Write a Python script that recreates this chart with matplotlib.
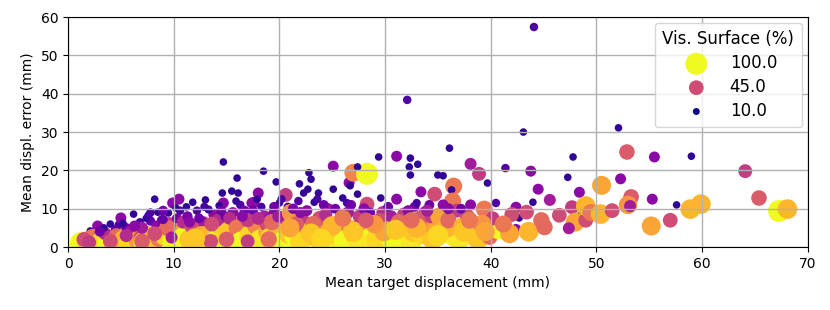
import numpy as np
import matplotlib.pyplot as plt
from matplotlib.colors import PowerNorm

# (mean target displacement, mean displ. error, visible surface %)
puntos = [
    (1.2,1.0,100),(1.8,1.5,85),(2.5,0.8,100),(2.1,4.2,12),(2.8,5.5,25),(2.3,2.5,60),(1.5,2.0,45),(3.0,3.0,30),
    (3.2,1.5,90),(3.8,0.8,100),(4.2,2.0,75),(4.5,4.5,20),(3.5,3.5,35),(4.8,5.8,15),(4.0,6.0,12),(4.6,2.8,55),(3.4,5.0,12),
    (5.0,7.6,25),(5.3,2.0,80),(5.8,1.0,90),(6.2,8.6,12),(6.5,3.5,50),(5.5,5.0,20),(6.8,6.5,14),(6.0,4.2,30),(6.6,1.8,70),(5.2,6.2,12),(6.9,2.5,45),
    (7.2,1.2,95),(7.5,3.0,75),(8.2,12.5,12),(8.5,9.1,12),(7.8,6.8,18),(8.0,2.0,85),(8.8,4.5,40),(7.4,7.5,12),(8.4,5.5,25),(7.0,5.0,30),(8.9,7.0,22),(8.6,2.2,60),(7.6,8.2,14),
    (9.5,8.9,12),(9.9,11.5,25),(10.5,12.5,25),(9.2,3.0,90),(10.0,1.5,100),(10.8,4.0,70),(9.6,6.0,40),(10.3,7.5,20),(9.4,5.0,55),(10.6,9.5,15),(11.0,2.5,100),(10.2,10.2,12),(9.0,7.2,18),(10.9,6.5,35),
    (11.8,11.7,12),(13.0,12.3,12),(11.5,2.0,85),(12.0,4.5,60),(12.5,1.0,100),(11.3,8.0,22),(12.2,9.5,15),(12.8,6.5,30),(11.7,5.5,45),(12.6,3.0,75),(11.2,10.5,12),(12.4,7.5,20),(13.0,2.0,90),(12.9,10.5,14),
    (14.7,22.2,12),(14.6,14.1,12),(14.7,11.5,25),(13.5,3.5,80),(14.0,1.5,100),(14.5,5.0,55),(13.8,8.5,25),(14.2,7.0,35),(13.3,9.8,14),(14.8,3.0,90),(13.6,6.0,45),(14.3,10.8,12),(14.9,8.0,20),
    (15.5,14.6,12),(16.1,14.1,12),(16.0,18.0,12),(15.2,4.0,85),(15.8,2.0,75),(16.5,6.5,50),(15.6,9.0,25),(16.3,11.0,15),(16.8,3.5,85),(15.3,7.5,35),(16.0,5.0,60),(16.7,9.5,20),(15.9,12.0,12),(16.4,1.2,100),
    (17.6,11.7,25),(17.4,11.5,25),(18.0,14.1,25),(18.5,19.8,12),(17.2,3.0,90),(17.8,5.5,65),(18.2,1.8,95),(18.6,8.0,30),(17.5,9.5,20),(18.9,4.0,75),(18.3,10.5,14),(17.0,7.0,40),(18.8,6.0,45),(17.9,12.5,12),
    (19.7,17.0,12),(20.6,13.6,40),(19.2,2.5,90),(19.8,5.0,80),(20.3,1.2,100),(20.5,7.5,35),(19.5,9.0,25),(20.8,10.5,15),(19.3,6.5,55),(20.0,11.5,12),(20.9,3.5,85),(19.9,8.0,30),(20.2,12.5,14),
    (21.1,8.9,70),(21.9,16.5,12),(22.3,14.1,12),(22.7,15.1,12),(22.8,19.4,12),(23.0,17.7,12),(21.5,3.0,100),(22.0,1.5,90),(22.5,5.5,60),(21.3,10.0,22),(22.2,7.0,40),(21.8,12.0,15),(22.9,4.0,80),(21.6,6.0,50),(22.6,9.5,25),
    (23.3,11.7,12),(23.7,14.1,12),(24.6,9.9,30),(23.5,2.5,85),(24.0,5.0,75),(24.5,1.2,100),(23.8,7.5,45),(24.2,11.0,20),(23.2,6.0,55),(24.8,3.5,85),(24.4,8.5,35),(23.6,12.5,14),
    (25.1,21.1,25),(25.1,15.1,12),(26.0,12.8,12),(26.6,16.8,25),(26.7,16.0,12),(25.5,3.0,90),(26.2,1.5,100),(25.8,6.5,55),(26.5,9.0,30),(25.3,10.0,20),(26.9,4.5,75),(25.9,8.0,40),(26.4,11.5,14),
    (27.0,19.4,65),(28.3,19.1,100),(27.4,20.9,12),(27.4,13.8,12),(28.3,11.2,45),(27.2,3.0,85),(27.8,5.5,70),(28.5,2.0,100),(27.6,8.0,40),(28.8,6.5,55),(28.0,10.0,25),(27.5,1.0,95),(28.6,9.0,20),
    (29.4,23.5,12),(29.6,12.8,12),(30.5,3.5,100),(29.2,2.0,90),(30.0,6.0,65),(29.8,9.0,35),(30.8,1.5,100),(29.5,7.0,45),(30.3,10.5,20),(30.9,5.0,80),(30.6,8.0,30),(29.9,4.0,75),
    (31.1,23.7,25),(31.1,12.5,25),(32.1,38.4,15),(32.4,23.2,12),(32.3,20.9,12),(32.4,18.8,12),(31.5,3.0,100),(32.0,5.5,75),(32.5,1.5,95),(31.8,8.5,40),(32.8,10.5,20),(31.3,6.5,55),(32.7,4.0,85),(32.2,9.5,25),
    (33.1,21.6,12),(33.4,14.4,25),(34.7,13.8,45),(33.5,3.5,90),(34.0,6.0,65),(34.5,2.0,85),(33.8,9.0,35),(34.2,11.0,20),(33.3,7.5,50),(34.8,4.5,75),(34.4,8.0,40),
    (35.0,18.8,12),(35.5,18.6,12),(36.1,25.8,12),(36.5,15.9,60),(36.3,14.9,12),(36.4,12.0,60),(35.2,7.9,75),(36.5,3.1,100),(37.0,2.0,95),(35.8,5.0,80),(36.8,9.5,40),(35.5,11.0,25),(36.0,7.0,55),
    (38.1,21.7,30),(38.9,19.1,40),(38.1,11.0,25),(37.4,5.3,80),(38.5,3.5,75),(37.8,8.0,45),(38.3,6.5,35),(37.2,10.0,20),(38.8,2.0,85),
    (39.4,9.9,60),(39.9,2.7,55),(40.8,4.9,100),(39.7,16.7,12),(40.2,7.5,40),(39.2,6.0,70),(40.5,11.5,15),
    (41.4,20.6,15),(42.4,10.4,25),(42.4,4.6,25),(42.7,7.6,12),(41.8,3.5,75),(42.0,8.5,45),(41.2,6.0,60),
    (43.1,30.0,12),(44.1,57.4,15),(43.8,19.8,25),(44.5,15.1,25),(44.0,11.7,12),(43.4,9.1,45),(43.6,4.0,80),(44.8,7.0,55),
    (45.6,12.3,30),(45.1,5.2,55),(46.5,8.3,45),(47.7,10.4,40),(47.8,23.5,12),(47.3,18.2,12),(48.4,14.3,25),(48.6,8.9,12),(48.0,6.5,75),(49.0,7.0,45),(47.4,4.9,30),(49.0,10.7,80),(49.5,9.0,60),
    (50.4,8.6,80),(50.5,16.1,75),(52.1,31.1,12),(52.3,17.8,25),(52.9,24.8,50),(53.3,13.1,50),(53.0,11.0,70),(53.2,10.7,30),(51.5,9.5,45),
    (55.5,23.5,25),(59.0,23.7,12),(64.1,19.8,40),(55.3,12.5,25),(57.6,11.0,12),(58.9,9.9,80),(59.9,11.2,80),(65.4,12.8,50),(67.3,9.4,100),(68.1,9.9,80),(55.2,5.5,75),(57.0,7.0,45),
    # dense lower band
    (2.0,1.2,40),(4.0,1.5,45),(5.5,3.0,35),(7.0,1.5,50),(8.2,3.5,45),(9.8,2.5,30),(6.3,5.5,25),(3.0,4.0,20),(9.0,9.5,20),(7.8,9.0,15),
    (11.5,6.5,25),(13.5,1.5,45),(15.0,2.0,50),(17.0,1.5,40),(19.0,2.0,55),(12.0,2.2,85),(14.5,9.5,20),(16.5,8.0,25),(18.0,7.5,35),(19.5,10.5,20),
    (21.0,5.0,75),(23.0,3.5,85),(25.0,5.5,80),(27.0,4.0,85),(29.0,6.0,70),(24.0,2.0,90),(26.0,7.5,60),(28.2,7.0,50),(22.0,9.0,25),(26.8,11.0,20),
    (31.0,4.5,85),(33.0,5.0,80),(35.0,3.0,90),(37.5,4.0,85),(34.0,9.5,30),(36.0,10.0,25),(32.5,7.0,55),(38.0,7.0,60),(39.5,4.0,75),(33.0,11.5,14),
]

desplazamiento = [p[0] for p in puntos]
error = [p[1] for p in puntos]
superficie = [p[2] for p in puntos]

leyenda_valores = [100.0, 45.0, 10.0]

cmap = plt.get_cmap("plasma")
norm = PowerNorm(gamma=0.7, vmin=10, vmax=100)
escala = 2.5

fig, ax = plt.subplots(figsize=(8.3, 3.1), dpi=100)
fig.subplots_adjust(left=0.082, right=0.973, top=0.945, bottom=0.203)

sup = np.array(superficie)
ax.scatter(desplazamiento, error, s=sup * escala, c=cmap(norm(sup)), edgecolors="none")

for v in leyenda_valores:
    ax.scatter([], [], s=v * escala, color=cmap(norm(v)), edgecolors="none", label=f"{v}")

ax.set_xlim(0, 70)
ax.set_ylim(0, 60)
ax.set_xlabel("Mean target displacement (mm)")
ax.set_ylabel("Mean displ. error (mm)")
ax.grid(True, color="#b0b0b0", linewidth=1)
ax.legend(title="Vis. Surface (%)", loc="upper right", fontsize=12, title_fontsize=12,
          labelspacing=0.35, borderpad=0.45, borderaxespad=0.35, handletextpad=1.0)

plt.savefig("out.png")
